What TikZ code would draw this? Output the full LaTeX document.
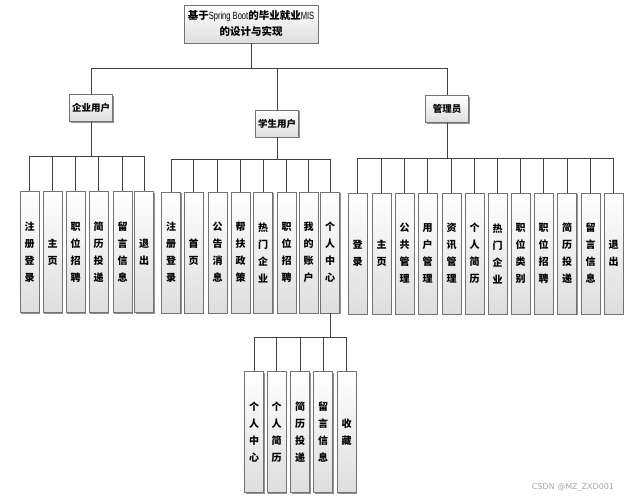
\documentclass[tikz,border=0pt]{standalone}
\usepackage{fontspec}
\usepackage{graphicx}
\setmainfont{Noto Sans CJK SC}
\newfontfamily\latinfont{Liberation Sans}
\newfontfamily\wmfont{DejaVu Sans}
\newcommand{\narrowlatin}[1]{{\latinfont\mdseries\scalebox{0.72}[1]{#1}}}
\usetikzlibrary{shadows}
\tikzset{
  box/.style={draw=black!55, line width=0.6pt, top color=white, bottom color=black!13,
    drop shadow={shadow xshift=1.3pt, shadow yshift=-1.3pt, fill=black!50, opacity=0.85},
    align=center, inner sep=0pt},
  leaf/.style={box, minimum width=19pt, minimum height=121pt, font=\bfseries\fontsize{10}{17}\selectfont},
  mid/.style={box, minimum width=43pt, minimum height=27pt, font=\bfseries\fontsize{9.5}{11}\selectfont},
  wire/.style={draw=black!75, line width=0.7pt},
}
\begin{document}
\begin{tikzpicture}[x=1pt,y=-1pt]
\useasboundingbox (0,0) rectangle (630,499);
% root
\node[box, minimum width=134pt, minimum height=38pt, font=\bfseries\fontsize{10.5}{16}\selectfont] (root) at (251,24)
  {基于\narrowlatin{Spring Boot}的毕业就业\narrowlatin{MIS}\\的设计与实现};
% second level
\node[mid] (ent) at (91,108) {企业用户};
\node[mid] (stu) at (277,123.5) {学生用户};
\node[mid] (adm) at (447,109) {管理员};
\foreach \c in {ent,stu,adm}
  \draw[wire] (root.south) -- ++(0,25) -| (\c.north);
% enterprise leaves
\foreach \x/\t [count=\i] in {29.5/{注\\册\\登\\录}, 52.5/{主\\页}, 75.5/{职\\位\\招\\聘}, 98.5/{简\\历\\投\\递}, 122.5/{留\\言\\信\\息}, 144/{退\\出}}
  \node[leaf] (e\i) at (\x,252) {\t};
\foreach \i in {1,...,6}
  \draw[wire] (ent.south) -- ++(0,35) -| (e\i.north);
% student leaves
\foreach \x/\t [count=\i] in {171/{注\\册\\登\\录}, 193.5/{首\\页}, 217.5/{公\\告\\消\\息}, 240.5/{帮\\扶\\政\\策}, 263/{热\\门\\企\\业}, 286.5/{职\\位\\招\\聘}, 308.5/{我\\的\\账\\户}, 330/{个\\人\\中\\心}}
  \node[leaf] (s\i) at (\x,252.5) {\t};
\foreach \i in {1,...,8}
  \draw[wire] (stu.south) -- ++(0,22) -| (s\i.north);
% admin leaves
\foreach \x/\t [count=\i] in {357.5/{登\\录}, 381.5/{主\\页}, 404.5/{公\\共\\管\\理}, 427.5/{用\\户\\管\\理}, 451.5/{资\\讯\\管\\理}, 474.5/{个\\人\\简\\历}, 497.5/{热\\门\\企\\业}, 520.5/{职\\位\\类\\别}, 543.5/{职\\位\\招\\聘}, 567/{简\\历\\投\\递}, 590.5/{留\\言\\信\\息}, 613.5/{退\\出}}
  \node[leaf] (a\i) at (\x,253.5) {\t};
\foreach \i in {1,...,12}
  \draw[wire] (adm.south) -- ++(0,36) -| (a\i.north);
% personal centre sub-tree
\foreach \x/\t [count=\i] in {254/{个\\人\\中\\心}, 276.5/{个\\人\\简\\历}, 300/{简\\历\\投\\递}, 323/{留\\言\\信\\息}, 346.5/{收\\藏}}
  \node[leaf] (p\i) at (\x,432) {\t};
\foreach \i in {1,...,5}
  \draw[wire] (s8.south) -- ++(0,24) -| (p\i.north);
% watermark
\node[font=\wmfont\fontsize{8}{8}\selectfont, text=black!35, inner sep=0pt] (wm) at (573,487) {CSDN @MZ\_ZXD001};
\end{tikzpicture}
\end{document}
